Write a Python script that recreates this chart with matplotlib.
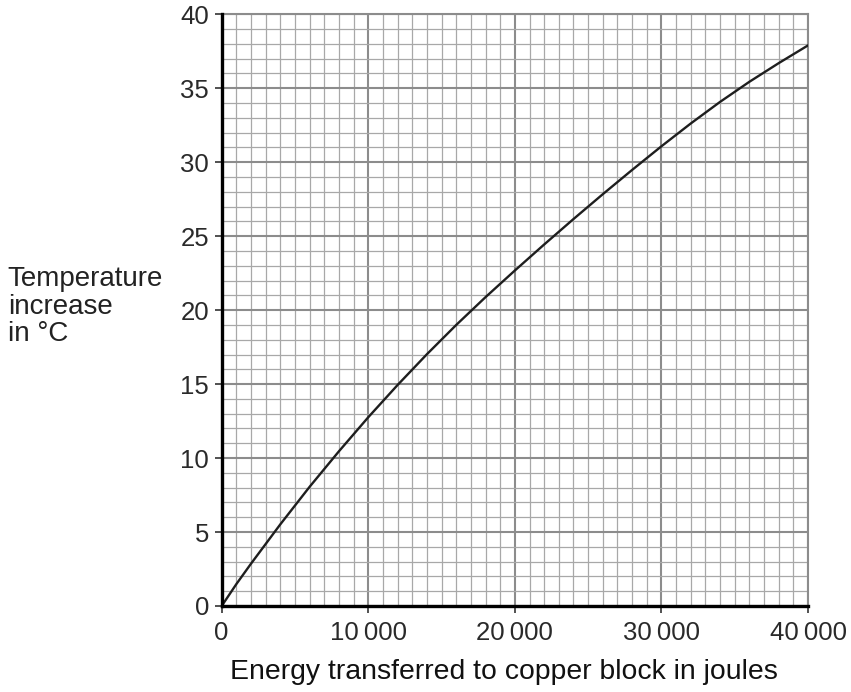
import matplotlib
matplotlib.use("Agg")
import matplotlib.pyplot as plt
from matplotlib.ticker import MultipleLocator, FuncFormatter

plt.rcParams['font.family'] = ['Liberation Sans', 'DejaVu Sans']

# values
energy_j = [0, 1000, 2000, 4000, 6000, 8000, 10000, 12000, 14000, 16000,
            18000, 20000, 22000, 24000, 26000, 28000, 30000, 32000, 34000,
            36000, 38000, 40000]
temp_rise = [0, 1.48, 2.86, 5.52, 8.06, 10.46, 12.76, 14.94, 17.02, 19.0,
             20.88, 22.68, 24.44, 26.16, 27.84, 29.48, 31.08, 32.62, 34.08,
             35.44, 36.7, 37.9]

x_ticks = [0, 10000, 20000, 30000, 40000]
y_ticks = [0, 5, 10, 15, 20, 25, 30, 35, 40]

fig = plt.figure(figsize=(8.51, 6.92), dpi=100)
ax = fig.add_axes([0.2605, 0.1243, 0.689, 0.855])

ax.set_xlim(0, 40000)
ax.set_ylim(0, 40)
ax.set_xticks(x_ticks)
ax.set_yticks(y_ticks)
ax.xaxis.set_minor_locator(MultipleLocator(1000))
ax.yaxis.set_minor_locator(MultipleLocator(1))
ax.xaxis.set_major_formatter(FuncFormatter(
    lambda v, p: "0" if v == 0 else f"{int(v)//1000}\u2009000"))

ax.grid(which='minor', color='#a8a8a8', lw=0.9)
ax.grid(which='major', color='#8c8c8c', lw=1.5)
ax.set_axisbelow(True)

ax.plot(energy_j, temp_rise, color='#1e1e1e', lw=1.7, zorder=3)

for side in ('top', 'right'):
    ax.spines[side].set_color('#8c8c8c')
    ax.spines[side].set_linewidth(1.5)
for side in ('left', 'bottom'):
    ax.spines[side].set_color('black')
    ax.spines[side].set_linewidth(2.4)
    ax.spines[side].set_zorder(4)

ax.tick_params(which='major', length=5, width=1.2, color='#333333',
               labelsize=18.5, labelcolor='#2a2a2a')
ax.tick_params(axis='x', pad=6)
ax.tick_params(axis='y', pad=4)
ax.tick_params(which='minor', length=0)

fig.text(0.592, 0.029, "Energy transferred to copper block in joules",
         ha='center', va='center', fontsize=20.4, color='#111111')
fig.text(0.009, 0.615, "Temperature\nincrease\nin °C", ha='left', va='top',
         fontsize=20, color='#222222', linespacing=1.07)

fig.savefig("out.png", dpi=100)
